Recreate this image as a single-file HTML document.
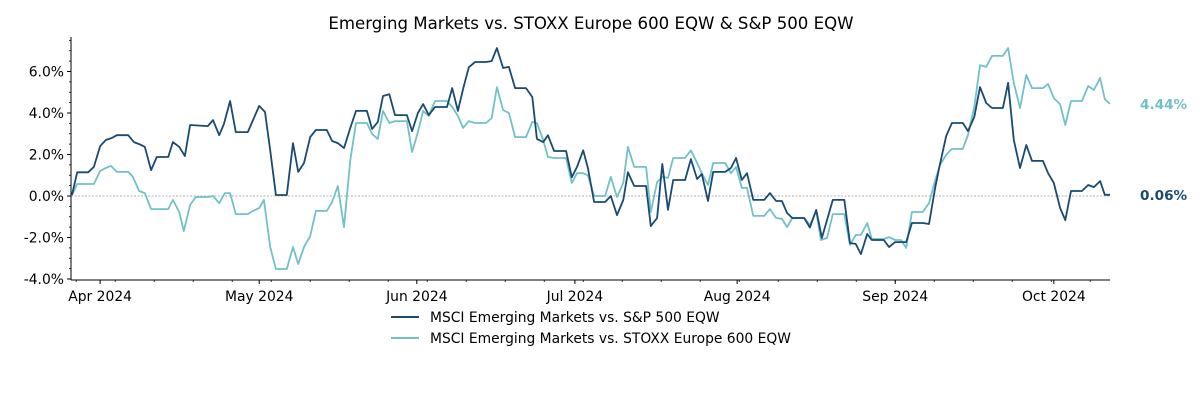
<!DOCTYPE html>
<html><head><meta charset="utf-8"><style>
body{margin:0;background:#fff;width:1200px;height:400px;overflow:hidden;font-family:"DejaVu Sans",sans-serif}
</style></head><body>
<svg id="chart" width="1200" height="400" xmlns="http://www.w3.org/2000/svg" font-family="DejaVu Sans, sans-serif">
<text x="591" y="29" text-anchor="middle" font-size="16.6" fill="#000">Emerging Markets vs. STOXX Europe 600 EQW &amp; S&amp;P 500 EQW</text>
<g id="axes"></g>
<g id="series"></g>
<g>
<line x1="391" y1="317" x2="419" y2="317" stroke="#184a73" stroke-width="2"/>
<text x="430" y="322" font-size="13.85">MSCI Emerging Markets vs. S&amp;P 500 EQW</text>
<line x1="391" y1="338" x2="419" y2="338" stroke="#72c1c7" stroke-width="2"/>
<text x="430" y="343" font-size="13.85">MSCI Emerging Markets vs. STOXX Europe 600 EQW</text>
</g>
</svg>
<script>
const darkT=[0.2,1.2,3.3,4.4,5.6,6.7,7.9,8.8,11,12.1,13.1,14.2,15.4,16.5,18.7,19.6,20.8,21.9,22.9,26.3,27.3,28.5,29.4,30.6,31.7,34,35,36.2,37.3,38.3,39.4,41.5,42.7,43.7,44.8,46,47.1,49.2,50.2,51.3,52.5,53.7,54.8,56.9,57.9,59,60,61.2,62.3,64.6,65.6,66.7,67.7,68.8,70,72.3,73.3,74.4,75.4,76.5,77.7,79.8,80.9,81.9,83.1,84.2,85.4,87.5,88.7,89.6,90.8,91.7,92.9,95.2,96.3,97.3,98.5,99.4,100.6,102.7,103.8,105,106.2,107.1,108.3,110.6,111.5,112.7,113.7,114.8,115.8,118.1,119.2,120.4,121.3,122.5,123.5,125.8,126.9,127.9,129,130,131.2,133.3,134.4,135.6,136.7,137.7,138.7,141,142.1,143.3,144.4,146.5,148.7,149.8,150.9,151.9,153.1,154,156.3,157.3,158.5,159.6,160.6,161.7,163.8,165,166.2,167.1,168.3,169.4,171.5,172.5,173.7,174.8,176,177.1,179.2,180.2,181.3,182.5,183.7,184.8,186.9,187.9,189,190.2,191.2,192.3,194.4,195.6,196.7,197.9,198.8,199.8];
const darkV=[0.05,1.14,1.14,1.4,2.4,2.7,2.8,2.93,2.93,2.6,2.5,2.37,1.25,1.88,1.88,2.6,2.37,1.93,3.42,3.37,3.66,2.93,3.47,4.58,3.08,3.08,3.66,4.34,4.05,2.2,0.05,0.05,2.55,1.16,1.59,2.84,3.18,3.18,2.65,2.55,2.31,3.28,4.1,4.1,3.23,3.57,4.82,4.9,3.9,3.9,3.13,4.0,4.43,3.9,4.29,4.29,5.2,4.1,5.16,6.2,6.46,6.46,6.5,7.13,6.17,6.22,5.2,5.2,4.77,2.75,2.6,2.93,2.17,2.17,0.9,1.4,2.2,1.35,-0.29,-0.29,0,-0.92,-0.19,1.14,0.48,0.48,-1.45,-1.06,1.54,-0.67,0.77,0.77,1.78,0.82,1.06,-0.24,1.16,1.16,1.35,1.83,0.77,1.1,-0.19,-0.19,0.14,-0.24,-0.24,-0.82,-1.06,-1.06,-1.52,-0.67,-2.02,-0.19,-0.19,-2.27,-2.31,-2.8,-1.83,-2.12,-2.12,-2.46,-2.22,-2.22,-2.22,-1.3,-1.3,-1.35,0.43,1.54,2.89,3.52,3.52,3.13,3.81,5.25,4.48,4.24,4.24,5.45,2.7,1.35,2.46,1.69,1.69,1.1,0.63,-0.58,-1.16,0.24,0.24,0.53,0.43,0.72,0.06,0.06];
const lightT=[0.2,1.2,4.4,5.6,6.7,7.7,8.8,11,11.9,13.1,14.2,15.4,18.7,19.6,20.8,21.7,22.9,24,26.3,27.3,28.5,29.6,30.6,31.7,34,35,36.2,37.1,38.3,39.4,41.5,42.7,43.7,44.8,46,47.1,49.2,50.2,51.3,52.5,53.7,54.8,56.9,57.9,59,60,61.2,62.3,64.6,65.6,66.7,67.7,68.8,70,72.3,73.3,74.4,75.4,76.5,77.7,79.8,80.9,81.9,83.1,84.2,85.4,87.5,88.7,89.6,90.8,91.7,92.9,95.2,96.3,97.3,98.5,99.4,100.6,102.7,103.8,105,106.2,107.1,108.3,110.6,111.5,112.7,113.7,114.8,115.8,118.1,119.2,120.4,121.3,122.5,123.5,125.8,126.9,127.9,129,130,131.2,133.3,134.4,135.6,136.7,137.7,138.7,141,142.1,143.3,144.2,145.4,146.5,148.7,149.8,150.9,151.9,153.1,154,156.3,157.3,158.5,159.6,160.6,161.7,163.8,165,166.2,167.1,168.3,169.4,171.5,172.5,173.7,174.8,176,177.1,179.2,180.2,181.3,182.5,183.7,184.8,186.9,187.9,189,190.2,191.2,192.3,194.4,195.6,196.7,197.9,198.8,199.8];
const lightV=[0.05,0.58,0.58,1.2,1.35,1.45,1.16,1.16,0.92,0.24,0.14,-0.63,-0.63,-0.19,-0.77,-1.69,-0.43,-0.05,-0.05,0,-0.34,0.14,0.14,-0.87,-0.87,-0.72,-0.58,-0.19,-2.46,-3.52,-3.52,-2.46,-3.28,-2.46,-1.93,-0.72,-0.72,-0.29,0.48,-1.5,1.73,3.52,3.52,2.99,2.75,4.1,3.52,3.61,3.61,2.12,3.08,4.1,3.86,4.58,4.58,4.29,3.86,3.28,3.61,3.52,3.52,3.76,5.25,4.14,4.0,2.84,2.84,3.57,3.52,2.7,1.88,1.83,1.83,0.63,1.1,1.1,1.0,0,0,0.92,-0.05,0.63,2.37,1.4,1.4,-0.77,0.67,0.92,0.87,1.83,1.83,2.2,1.59,1.1,0.53,1.59,1.59,1.1,1.4,0.39,0.39,-0.96,-0.96,-0.63,-1.06,-1.1,-1.5,-1.06,-1.06,-1.4,-0.72,-2.12,-2.02,-0.87,-0.87,-2.36,-1.88,-1.88,-1.3,-2.07,-2.07,-1.98,-2.12,-2.12,-2.5,-0.77,-0.77,-0.34,0.77,1.5,1.98,2.27,2.27,2.94,4.29,6.31,6.22,6.75,6.75,7.13,5.45,4.24,5.83,5.2,5.2,5.4,4.72,4.43,3.42,4.58,4.58,5.3,5.11,5.69,4.67,4.44];
const monthLabels=["Apr 2024","May 2024","Jun 2024","Jul 2024","Aug 2024","Sep 2024","Oct 2024"];
const monthT=[5.6,36.2,66.5,96.9,128.1,158.5,189];
const yTicks=[-4,-2,0,2,4,6];

const NS="http://www.w3.org/2000/svg";
const X0=71,X1=1110,T0=0,T1=199.8;
const x=t=>X0+(t-T0)/(T1-T0)*(X1-X0);
const y=v=>196-v*20.75;
function el(tag,attrs,parent,text){const e=document.createElementNS(NS,tag);for(const k in attrs)e.setAttribute(k,attrs[k]);if(text!=null)e.textContent=text;parent.appendChild(e);return e;}
const axes=document.getElementById('axes'),ser=document.getElementById('series');
const zl=el('line',{x1:X0,x2:X1,y1:y(0),y2:y(0),stroke:'#999','stroke-width':0.8,'stroke-dasharray':'2,1.5'},axes);


const ya=el('line',{x1:X0,x2:X0,y1:37,y2:280,stroke:'#000','stroke-width':1},axes);


const xa=el('line',{x1:X0,x2:X1,y1:280,y2:280,stroke:'#000','stroke-width':1},axes);


for(let v=-4;v<=7.5;v+=0.5){el('line',{x1:X0-2,x2:X0,y1:y(v),y2:y(v),stroke:'#000','stroke-width':0.8},axes);}
yTicks.forEach(v=>{
  el('line',{x1:X0-4,x2:X0,y1:y(v),y2:y(v),stroke:'#000','stroke-width':1},axes);
  const t=el('text',{x:X0-7,y:y(v)+4.8,'text-anchor':'end','font-size':13.9},axes,v.toFixed(1)+'%');
  
  
});
for(let t=1;t<T1;t+=7.5){el('line',{x1:x(t),x2:x(t),y1:280,y2:282,stroke:'#000','stroke-width':0.8},axes);}
monthT.forEach((t,i)=>{
  el('line',{x1:x(t),x2:x(t),y1:280,y2:284,stroke:'#000','stroke-width':1},axes);
  const lb=el('text',{x:x(t),y:301,'text-anchor':'middle','font-size':13.9},axes,monthLabels[i]);
  
  
});
function line(T,V,color,name){
  const d=T.map((t,i)=>(i?'L':'M')+x(t).toFixed(1)+','+y(V[i]).toFixed(1)).join('');
  const p=el('path',{d:d,fill:'none',stroke:color,'stroke-width':1.8,'stroke-linejoin':'round'},ser);
  
  
}
line(lightT,lightV,'#72c1c7','stoxx-series-line');
line(darkT,darkV,'#184a73','sp500-series-line');
const l1=el('text',{x:1140,y:y(lightV[lightV.length-1])+5,'font-size':13.6,'font-weight':'bold',fill:'#72c1c7'},ser,lightV[lightV.length-1].toFixed(2)+'%');


const l2=el('text',{x:1140,y:y(darkV[darkV.length-1])+5,'font-size':13.6,'font-weight':'bold',fill:'#184a73'},ser,darkV[darkV.length-1].toFixed(2)+'%');


</script>
</body></html>
